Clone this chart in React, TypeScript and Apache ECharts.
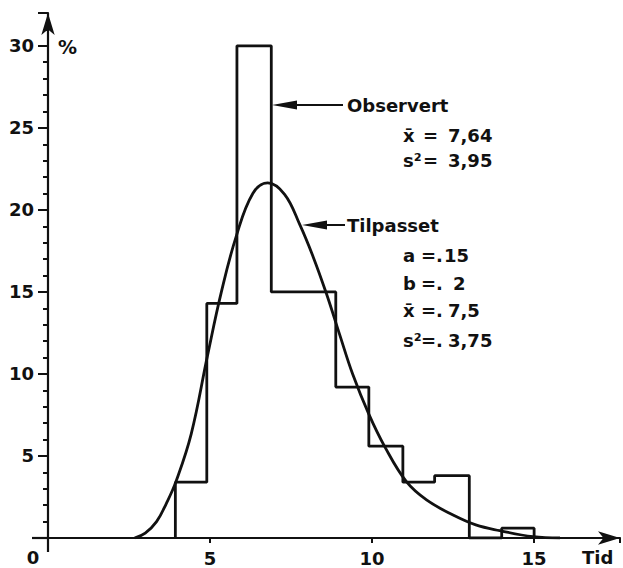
import React, { useEffect, useRef } from "react";
import * as echarts from "echarts";

// Histogram (observed): bin edges and percentages
const binEdges = [3.93, 4.9, 5.83, 6.89, 8.88, 9.9, 10.95, 11.93, 13.0, 14.0, 15.0];
const binValues = [3.4, 14.3, 30.0, 15.0, 9.2, 5.6, 3.4, 3.8, 0, 0.6];

// Fitted curve
const curveX = [2.67, 3.0, 3.35, 3.65, 3.95, 4.42, 4.92, 5.35, 5.81, 6.32, 6.78, 7.3, 7.77, 8.18, 8.59, 9.0, 9.4, 9.9, 10.39, 11.06, 11.68, 12.5, 13.2, 13.94, 14.97, 15.8];
const curveY = [0, 0.3, 1.0, 2.1, 3.45, 6.35, 11.1, 15.0, 18.4, 21.0, 21.65, 20.95, 19.1, 17.15, 14.9, 12.4, 10.0, 7.55, 5.57, 3.43, 2.32, 1.4, 0.8, 0.45, 0.08, 0];

const xTicks = [0, 5, 10, 15];
const yTicks = [5, 10, 15, 20, 25, 30];

const INK = "#111";
const FONT = '"DejaVu Sans", sans-serif';

export default function App() {
  const ref = useRef<HTMLDivElement>(null);
  useEffect(() => {
    if (!ref.current) return;
    const chart = echarts.init(ref.current, null, { renderer: "svg" });

    const histPts: number[][] = [[binEdges[0], 0]];
    for (let i = 0; i < binValues.length; i++) {
      histPts.push([binEdges[i], binValues[i]]);
      histPts.push([binEdges[i + 1], binValues[i]]);
    }
    histPts.push([binEdges[binEdges.length - 1], 0]);

    const curvePts = curveX.map((x, i) => [x, curveY[i]]);

    const txt = (text: string, x: number, y: number, size = 18, align = "left") => ({
      type: "text",
      style: {
        text, x, y, fill: INK, fontSize: size, fontFamily: FONT, fontWeight: "bold",
        align, verticalAlign: "middle",
      },
    });
    const arrow = (tipX: number, y: number, backX: number, endX: number) => [
      { type: "line", shape: { x1: backX, y1: y, x2: endX, y2: y }, style: { stroke: INK, lineWidth: 2 } },
      { type: "polygon", shape: { points: [[tipX, y], [backX, y - 4.5], [backX, y + 4.5]] }, style: { fill: INK } },
    ];

    chart.setOption({
      animation: false,
      backgroundColor: "#fff",
      grid: { left: 48, right: 2, top: 13, bottom: 30 },
      xAxis: {
        type: "value",
        min: 0,
        max: 17.65,
        interval: 5,
        splitLine: { show: false },
        axisLine: { lineStyle: { color: INK, width: 2.2 }, symbol: ["none", "arrow"], symbolSize: [10, 22] },
        axisTick: { length: 5, lineStyle: { color: INK, width: 2 } },
        axisLabel: {
          color: INK, fontSize: 18, fontFamily: FONT, fontWeight: "bold", margin: 11,
          formatter: (v: number) => (xTicks.includes(v) && v !== 0 ? String(v) : ""),
        },
      },
      yAxis: {
        type: "value",
        min: 0,
        max: 32,
        interval: 5,
        splitLine: { show: false },
        axisLine: { lineStyle: { color: INK, width: 2.2 }, symbol: ["none", "arrow"], symbolSize: [10, 22] },
        axisTick: { length: 10, lineStyle: { color: INK, width: 2 } },
        minorTick: { show: true, splitNumber: 5, length: 5, lineStyle: { color: INK, width: 2 } },
        axisLabel: {
          color: INK, fontSize: 18, fontFamily: FONT, fontWeight: "bold", margin: 14,
          formatter: (v: number) => (yTicks.includes(v) ? String(v) : ""),
        },
      },
      series: [
        {
          type: "line",
          data: histPts,
          symbol: "none",
          lineStyle: { color: INK, width: 2.8 },
          z: 3,
        },
        {
          type: "line",
          data: curvePts,
          symbol: "none",
          smooth: 0.4,
          lineStyle: { color: INK, width: 2.8 },
          z: 3,
        },
      ],
      graphic: [
        { type: "line", shape: { x1: 32, y1: 538, x2: 48, y2: 538 }, style: { stroke: INK, lineWidth: 2.2 } },
        { type: "line", shape: { x1: 48, y1: 538, x2: 48, y2: 552 }, style: { stroke: INK, lineWidth: 2.2 } },
        txt("0", 33, 557, 18, "center"),
        txt("%", 58, 47, 19),
        txt("Tid", 582, 557, 18),
        ...arrow(272, 105, 297, 343),
        txt("Observert", 347, 105),
        txt("x\u0304", 403, 135),
        txt("=", 423, 135),
        txt("7,64", 448, 135),
        txt("s\u00b2", 403, 160),
        txt("=", 423, 160),
        txt("3,95", 448, 160),
        ...arrow(302, 225, 327, 345),
        txt("Tilpasset", 347, 225),
        txt("a", 403, 255),
        txt("=.", 421, 255),
        txt("15", 444, 255),
        txt("b", 403, 283),
        txt("=.", 421, 283),
        txt("2", 453, 283),
        txt("x\u0304", 403, 310),
        txt("=.", 421, 310),
        txt("7,5", 448, 310),
        txt("s\u00b2", 403, 340),
        txt("=.", 421, 340),
        txt("3,75", 448, 340),
      ],
    });
    return () => chart.dispose();
  }, []);
  return (
    <div
      ref={ref}
      style={{ position: "fixed", left: 0, top: 0, width: 623, height: 568, background: "#fff" }}
    />
  );
}
